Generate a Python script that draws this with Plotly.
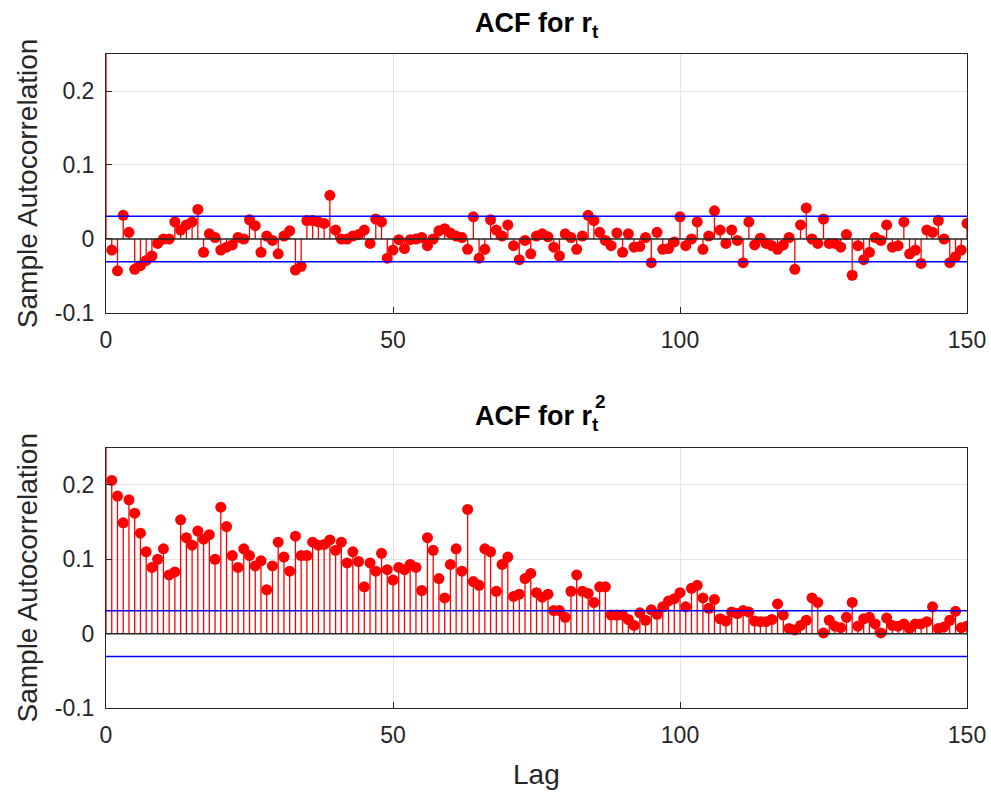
import plotly.graph_objects as go
from plotly.subplots import make_subplots

lags = list(range(0, 151))

acf_r = [1.0,
 -0.015, -0.043, 0.032, 0.009, -0.041, -0.036, -0.029, -0.023, -0.006, 0.000,
 0.000, 0.023, 0.012, 0.019, 0.023, 0.040, -0.018, 0.007, 0.002, -0.015,
 -0.011, -0.008, 0.002, 0.000, 0.026, 0.018, -0.018, 0.004, -0.002, -0.020,
 0.004, 0.011, -0.042, -0.037, 0.025, 0.025, 0.023, 0.021, 0.059, 0.012,
 0.000, 0.000, 0.004, 0.006, 0.012, -0.006, 0.027, 0.023, -0.026, -0.015,
 -0.001, -0.013, -0.001, 0.000, 0.002, -0.009, 0.000, 0.011, 0.014, 0.008,
 0.004, 0.002, -0.014, 0.030, -0.026, -0.014, 0.026, 0.012, 0.004, 0.019,
 -0.009, -0.028, -0.002, -0.020, 0.004, 0.007, 0.003, -0.011, -0.023, 0.007,
 0.002, -0.014, 0.004, 0.032, 0.025, 0.009, -0.002, -0.009, 0.008, -0.018,
 0.007, -0.011, -0.010, 0.002, -0.032, 0.009, -0.014, -0.013, -0.004, 0.030,
 -0.009, 0.000, 0.023, -0.014, 0.004, 0.038, 0.012, -0.006, 0.012, -0.002,
 -0.032, 0.023, -0.008, 0.001, -0.006, -0.009, -0.014, -0.008, 0.002, -0.041,
 0.019, 0.042, 0.000, -0.006, 0.027, -0.006, -0.006, -0.011, 0.006, -0.049,
 -0.009, -0.028, -0.018, 0.002, -0.002, 0.019, -0.011, -0.009, 0.023, -0.020,
 -0.015, -0.033, 0.012, 0.009, 0.025, 0.000, -0.032, -0.024, -0.015, 0.021]

acf_r2 = [1.0,
 0.206, 0.185, 0.149, 0.180, 0.162, 0.135, 0.110, 0.089, 0.100, 0.114,
 0.079, 0.083, 0.153, 0.129, 0.119, 0.138, 0.127, 0.133, 0.100, 0.170,
 0.144, 0.105, 0.089, 0.114, 0.105, 0.091, 0.098, 0.059, 0.091, 0.123,
 0.103, 0.084, 0.131, 0.105, 0.105, 0.123, 0.119, 0.120, 0.126, 0.112,
 0.123, 0.095, 0.110, 0.097, 0.063, 0.095, 0.084, 0.108, 0.086, 0.072,
 0.089, 0.086, 0.093, 0.089, 0.058, 0.129, 0.112, 0.074, 0.048, 0.093,
 0.114, 0.084, 0.167, 0.070, 0.065, 0.114, 0.110, 0.057, 0.093, 0.103,
 0.050, 0.053, 0.074, 0.081, 0.055, 0.049, 0.053, 0.031, 0.031, 0.022,
 0.057, 0.079, 0.057, 0.054, 0.042, 0.063, 0.063, 0.025, 0.025, 0.025,
 0.019, 0.011, 0.028, 0.018, 0.032, 0.026, 0.036, 0.044, 0.047, 0.055,
 0.036, 0.061, 0.065, 0.048, 0.034, 0.046, 0.020, 0.017, 0.029, 0.027,
 0.031, 0.029, 0.017, 0.016, 0.016, 0.019, 0.040, 0.025, 0.007, 0.005,
 0.011, 0.018, 0.048, 0.042, 0.001, 0.018, 0.010, 0.008, 0.022, 0.042,
 0.010, 0.020, 0.022, 0.013, 0.001, 0.021, 0.011, 0.010, 0.013, 0.007,
 0.013, 0.013, 0.016, 0.036, 0.007, 0.009, 0.018, 0.030, 0.008, 0.010]

conf_bound = 0.0307

x_ticks = [0, 50, 100, 150]
y_ticks = [-0.1, 0, 0.1, 0.2]
y_ticklabels = ["-0.1", "0", "0.1", "0.2"]

RED = "#ff0000"
BLUE = "#0000ff"
AX = "#262626"
FONT = "Liberation Sans"

fig = make_subplots(rows=2, cols=1, vertical_spacing=0.0)

for row, vals in ((1, acf_r), (2, acf_r2)):
    sx, sy = [], []
    for k, v in zip(lags, vals):
        sx += [k, k, None]
        sy += [0, v, None]
    fig.add_trace(go.Scatter(x=sx, y=sy, mode="lines",
                             line=dict(color=RED, width=1.3),
                             hoverinfo="skip", showlegend=False), row=row, col=1)
    fig.add_trace(go.Scatter(x=lags, y=vals, mode="markers",
                             marker=dict(color=RED, size=11, line=dict(width=0)),
                             showlegend=False), row=row, col=1)
    fig.add_trace(go.Scatter(x=[lags[0], lags[-1]], y=[0, 0], mode="lines",
                             line=dict(color=AX, width=1.5),
                             showlegend=False), row=row, col=1)
    for b in (conf_bound, -conf_bound):
        fig.add_trace(go.Scatter(x=[lags[0], lags[-1]], y=[b, b], mode="lines",
                                 line=dict(color=BLUE, width=1.5),
                                 showlegend=False), row=row, col=1)

axis_common = dict(showline=True, linecolor=AX, linewidth=1, mirror=True,
                   ticks="inside", ticklen=6, tickcolor=AX, automargin=False,
                   showgrid=True, gridcolor="#e3e3e3", gridwidth=1,
                   ticklabeloverflow="allow",
                   zeroline=False, tickfont=dict(family=FONT, size=23, color=AX))

for r in (1, 2):
    fig.update_xaxes(range=[0, 150], tickvals=x_ticks, ticklabelstandoff=6,
                     row=r, col=1, **axis_common)
    fig.update_yaxes(range=[-0.1, 0.25], tickvals=y_ticks, ticktext=y_ticklabels,
                     ticklabelstandoff=6, row=r, col=1, **axis_common)

fig.update_layout(
    width=991, height=794,
    margin=dict(l=106, r=24, t=54, b=86),
    plot_bgcolor="white", paper_bgcolor="white",
    font=dict(family=FONT, color=AX),
    xaxis=dict(domain=[0, 1]),
    yaxis=dict(domain=[0.604, 1.0]),
    yaxis2=dict(domain=[0.0, 0.398]),
)

title_font = dict(family=FONT, size=27, color="#000000")
label_font = dict(family=FONT, size=28, color=AX)
fig.add_annotation(text="<b>ACF for r<sub>t</sub></b>", xref="paper", yref="paper",
                   x=0.5, y=1.045, showarrow=False, font=title_font,
                   xanchor="center", yanchor="middle")
fig.add_annotation(text="<b>ACF for r<sub>t</sub></b>", xref="paper", yref="paper",
                   x=0.5, y=0.443, showarrow=False, font=title_font,
                   xanchor="center", yanchor="middle")
fig.add_annotation(text="<b>2</b>", xref="paper", yref="paper",
                   x=0.5745, y=0.468, showarrow=False,
                   font=dict(family=FONT, size=19, color="#000000"),
                   xanchor="center", yanchor="middle")
fig.add_annotation(text="Sample Autocorrelation", xref="paper", yref="paper",
                   x=-0.091, y=0.802, textangle=-90, showarrow=False,
                   font=label_font, xanchor="center", yanchor="middle")
fig.add_annotation(text="Sample Autocorrelation", xref="paper", yref="paper",
                   x=-0.091, y=0.199, textangle=-90, showarrow=False,
                   font=label_font, xanchor="center", yanchor="middle")
fig.add_annotation(text="Lag", xref="paper", yref="paper",
                   x=0.5, y=-0.102, showarrow=False,
                   font=label_font, xanchor="center", yanchor="middle")

# remove the default 8px page margin so the 991x794 figure fills the window exactly
fig.write_html("out.html", config={"displayModeBar": False},
               post_script="document.body.style.margin='0px';")
